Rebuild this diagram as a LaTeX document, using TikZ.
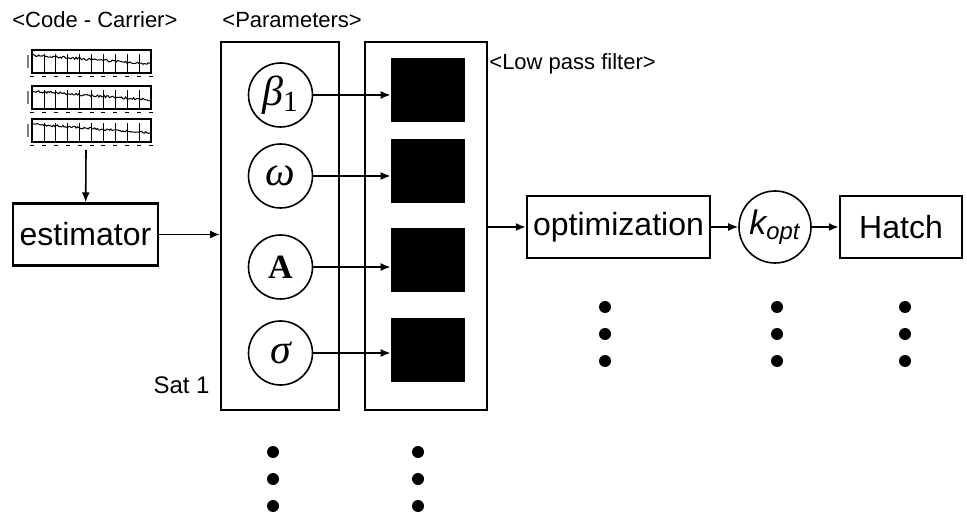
\documentclass[tikz,border=0pt]{standalone}
\usepackage{fontspec}
\usepackage{amsmath}
\setmainfont{Liberation Sans}
\newfontfamily\timesfont{Liberation Serif}
\usetikzlibrary{arrows.meta, positioning}

\begin{document}
\begin{tikzpicture}[
        x=0.5pt, y=-0.5pt,
        node distance=13.5pt,
        box/.style={rectangle, draw=black, line width=1.2pt, minimum height=31pt, inner sep=0pt, align=center, font=\fontsize{16}{19}\selectfont},
        panel/.style={rectangle, draw=black, line width=1pt, minimum height=184pt, inner sep=0pt},
        param/.style={circle, draw=black, line width=0.8pt, minimum size=32pt, inner sep=0pt, font=\timesfont\fontsize{21}{24}\selectfont},
        lpf/.style={rectangle, fill=black, minimum width=37pt, minimum height=32pt, inner sep=0pt},
        tag/.style={font=\fontsize{11}{13}\selectfont, inner sep=0pt},
        arrow/.style={-{Latex[length=5pt,width=4pt]}, line width=0.8pt, black}
    ]
        \useasboundingbox (0,0) rectangle (967,512);

        % code-carrier plots
        \pgfmathsetseed{7}
        \foreach \T in {50,86,119} {
            \draw[line width=0.6pt] (32,\T) rectangle (151,\T+23);
            \foreach \i in {1,...,9}
                \draw[line width=0.4pt] (32+\i*11.9,\T+23) -- (32+\i*11.9,\T+4);
            \foreach \i in {0,...,10}
                \fill (32+\i*11.9-2,\T+26) rectangle ++(4,1.5);
            \fill[gray] (27,\T+5) rectangle (28.5,\T+18);
            \draw[line width=0.5pt] plot[domain=0:1, samples=90] ({32+119*\x},{\T+5+9*\x+1.1*rand});
        }
        \coordinate (plotsbot) at (86,150);

        \node[tag, anchor=west] (cc) at (12,20) {<Code - Carrier>};
        \node[tag, anchor=west] (partag) at (222,20) {<Parameters>};
        \node[tag, anchor=west] (lptag) at (489,64) {<Low pass filter>};
        \node[tag, anchor=east, font=\fontsize{12}{14}\selectfont] (sat) at (210,385) {Sat 1};

        \node[box, minimum width=72.5pt] (est) at (85.5,234.5) {estimator};

        \node[panel, minimum width=59pt] (params) at (280,226) {};
        \node[panel, minimum width=61pt] (filt) at (426,226) {};

        \node[param] (b1) at (280.5,95) {\itshape β\textsubscript{\upshape 1}};
        \node[param] (om) at (280.5,176) {\itshape ω};
        \node[param, font=\timesfont\bfseries\fontsize{17}{20}\selectfont] (amp) at (280.5,267) {A};
        \node[param] (sig) at (280.5,353) {\itshape σ};

        \node[lpf] (lp1) at (428,90) {};
        \node[lpf] (lp2) at (428,171.5) {};
        \node[lpf] (lp3) at (428,260.5) {};
        \node[lpf] (lp4) at (428,350) {};

        \node[box, minimum width=91.5pt] (opt) at (618.5,227) {optimization};
        \node[param, minimum size=36pt, right=of opt, font=\fontsize{17}{20}\selectfont] (kopt) {\textit{k\textsubscript{opt}}};
        \node[box, minimum width=61pt, right=of kopt] (hatch) {Hatch};

        \draw[arrow] (plotsbot) -- (est);
        \draw[arrow] (est) -- (est -| params.west);
        \draw[arrow] (b1) -- (b1 -| lp1.west);
        \draw[arrow] (om) -- (om -| lp2.west);
        \draw[arrow] (amp) -- (amp -| lp3.west);
        \draw[arrow] (sig) -- (sig -| lp4.west);
        \draw[arrow] (filt.east |- opt) -- (opt);
        \draw[arrow] (opt) -- (kopt);
        \draw[arrow] (kopt) -- (hatch);

        % more satellites / outputs
        \foreach \dx in {605,777,905}
            \foreach \dy in {307,334,361}
                \fill (\dx,\dy) circle[radius=3pt];
        \foreach \dx in {273,418}
            \foreach \dy in {452,479,506}
                \fill (\dx,\dy) circle[radius=3pt];
    \end{tikzpicture}
\end{document}
